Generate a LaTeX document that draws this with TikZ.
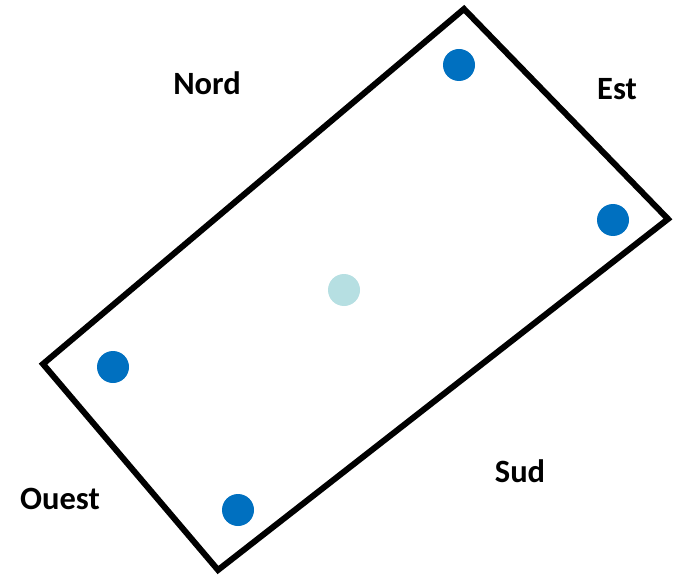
\documentclass[tikz,border=0pt]{standalone}
\usepackage{fontspec}
\setmainfont{Carlito}
\begin{document}
\begin{tikzpicture}[x=1pt,y=-1pt,
  outline/.style={line width=6pt, line join=miter, black},
  post/.style={circle, fill={rgb,255:red,0;green,112;blue,192}, minimum size=32pt, inner sep=0pt},
  centre/.style={circle, fill={rgb,255:red,182;green,223;blue,226}, minimum size=32pt, inner sep=0pt},
  side/.style={font=\fontsize{32.5}{36}\selectfont\bfseries, inner sep=0pt}]
  \useasboundingbox (0,0) rectangle (679,577);
  % rectangle corners
  \coordinate (T) at (464,9);
  \coordinate (R) at (668,219);
  \coordinate (B) at (218,570);
  \coordinate (L) at (43,364);
  \draw[outline] (T) -- (R) -- (B) -- (L) -- cycle;
  % posts
  \node[post] (p1) at (459,65) {};
  \node[post] (p2) at (613,220) {};
  \node[post] (p3) at (113,367) {};
  \node[post] (p4) at (238,510) {};
  \node[centre] (c) at (344,290) {};
  % side labels
  \node[side] (nord) at (207,83) {Nord};
  \node[side] (est) at (617,89) {Est};
  \node[side] (sud) at (520,471) {Sud};
  \node[side] (ouest) at (60,499) {Ouest};
\end{tikzpicture}
\end{document}
